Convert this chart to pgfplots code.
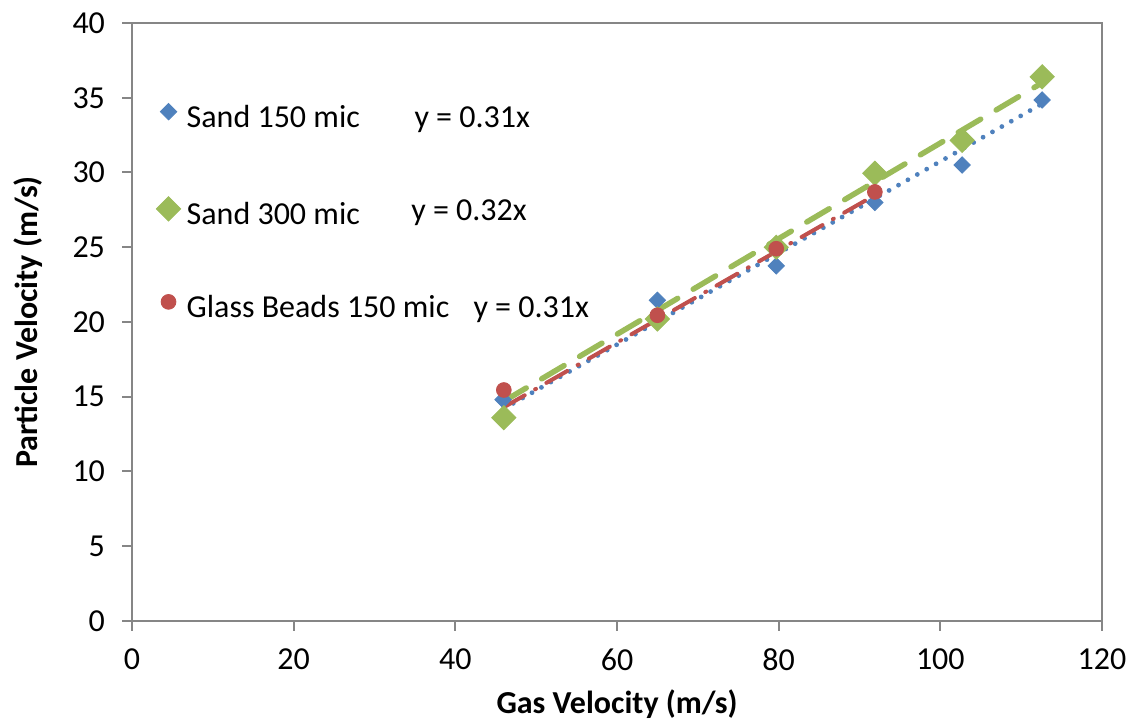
\documentclass[border=0pt]{standalone}
\usepackage{fontspec}
\setmainfont{Carlito}
\usepackage{pgfplots}
\pgfplotsset{compat=1.18}
\definecolor{sblue}{HTML}{4F81BD}
\definecolor{sred}{HTML}{C0504D}
\definecolor{sgreen}{HTML}{9BBB59}
\definecolor{axgray}{HTML}{868686}
\begin{document}
\begin{tikzpicture}
\begin{axis}[name=ax, scale only axis, width=485bp, height=299bp,
  xmin=0, xmax=120, ymin=0, ymax=40,
  xtick={0,20,...,120}, ytick={0,5,...,40},
  axis line style={axgray, line width=1bp},
  tick style={axgray, line width=1bp},
  tick align=outside, major tick length=5bp,
  xtick pos=left, ytick pos=left,
  font=\fontsize{16bp}{19bp}\selectfont,
  /pgf/number format/assume math mode=true,
  ticklabel style={font=\fontsize{16bp}{19bp}\selectfont},
  xticklabel style={yshift=-5.5bp},
  yticklabel style={xshift=-5bp},
  xlabel={\textbf{Gas Velocity (m/s)}},
  ylabel={\textbf{Particle Velocity (m/s)}},
  xlabel style={at={(axis description cs:0.5,-0.1555)}, anchor=base, inner sep=0pt},
  ylabel style={at={(axis description cs:-0.1072,0.5)}, anchor=center, inner sep=0pt},
  legend style={at={(rel axis cs:0.0247,0.866)}, anchor=north west, draw=none, fill=none,
    inner sep=0pt, row sep=30.5bp, column sep=3bp,
    nodes={inner sep=0pt, text height=12bp, text depth=4bp},
    font=\fontsize{16bp}{19bp}\selectfont},
  legend cell align=left,
  legend image code/.code={\draw[mark repeat=2,mark phase=2,#1] plot coordinates {(0bp,4bp)(6bp,4bp)(12bp,4bp)};},
]
\addplot[only marks, mark=square*, mark size=2.9bp, mark options={rotate=45, draw=sblue, fill=sblue}]
  coordinates {(45.9,14.8) (65,21.45) (79.7,23.75) (91.9,28.0) (102.7,30.5) (112.6,34.85)};
\addlegendentry{Sand 150 mic}
\addplot[only marks, mark=square*, mark size=4.3bp, mark options={rotate=45, draw=sgreen, fill=sgreen}]
  coordinates {(46,13.6) (65,20.2) (79.7,25.0) (91.9,29.95) (102.7,32.15) (112.6,36.4)};
\addlegendentry{Sand 300 mic}
\addplot[only marks, mark=*, mark size=3.7bp, mark options={draw=sred, fill=sred}]
  coordinates {(46,15.45) (65,20.45) (79.7,24.9) (91.9,28.7)};
\addlegendentry{Glass Beads 150 mic}
\addplot[forget plot, sblue, line width=2.4bp, line cap=round, dash pattern=on 0bp off 5.4bp]
  coordinates {(46,14.2) (112.6,34.6)};
\addplot[forget plot, sgreen, line width=2.75bp, line cap=round, dash pattern=on 13bp off 9bp]
  coordinates {(46,14.7) (112.6,36.0)};
\addplot[forget plot, sred, line width=2bp, line cap=round, dash pattern=on 12bp off 6bp on 0.5bp off 6bp]
  coordinates {(46,14.3) (92.6,28.7)};
\node[anchor=base west, inner sep=0pt] at (axis cs:34.9,33.04) {y = 0.31x};
\node[anchor=base west, inner sep=0pt] at (axis cs:34.5,26.76) {y = 0.32x};
\node[anchor=base west, inner sep=0pt] at (axis cs:42.2,20.27) {y = 0.31x};
\end{axis}
\pgfresetboundingbox
\path ([shift={(-66bp,-52.5bp)}]ax.south west) rectangle ([shift={(18.5bp,11.5bp)}]ax.north east);
\end{tikzpicture}
\end{document}
